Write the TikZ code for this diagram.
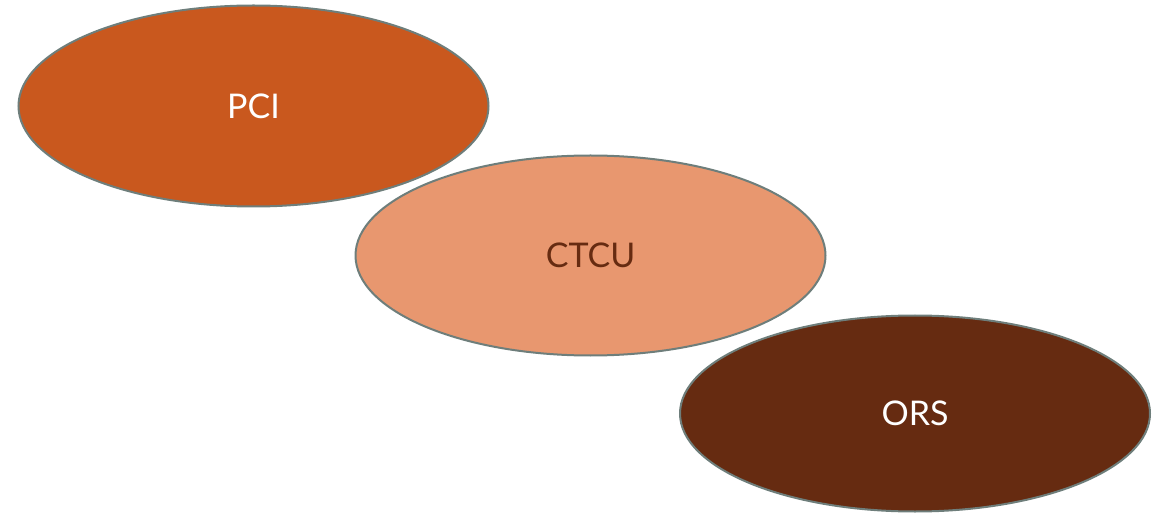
\documentclass[tikz,border=0pt]{standalone}
\usepackage{fontspec}
\setmainfont{Lato}
\usetikzlibrary{shapes.geometric}
\definecolor{cOrange}{HTML}{C9581E}
\definecolor{cLight}{HTML}{E8976F}
\definecolor{cBrown}{HTML}{662B11}
\definecolor{cEdge}{HTML}{6E7E7B}
\tikzset{
  oval/.style={ellipse, draw=cEdge, line width=2pt, inner sep=0pt,
    minimum width=470pt, font=\fontsize{34}{40}\selectfont}
}
\begin{document}
\begin{tikzpicture}[x=1pt,y=-1pt]
\useasboundingbox (0,0) rectangle (1163,513);
\node[oval, fill=cOrange, text=white, minimum height=201pt] (pci) at (253.5,106) {PCI};
\node[oval, fill=cLight, text=cBrown, minimum height=200pt] (ctcu) at (590.5,255.5) {CTCU};
\node[oval, fill=cBrown, text=white, minimum height=196pt] (ors) at (915,413.5) {ORS};
\end{tikzpicture}
\end{document}
